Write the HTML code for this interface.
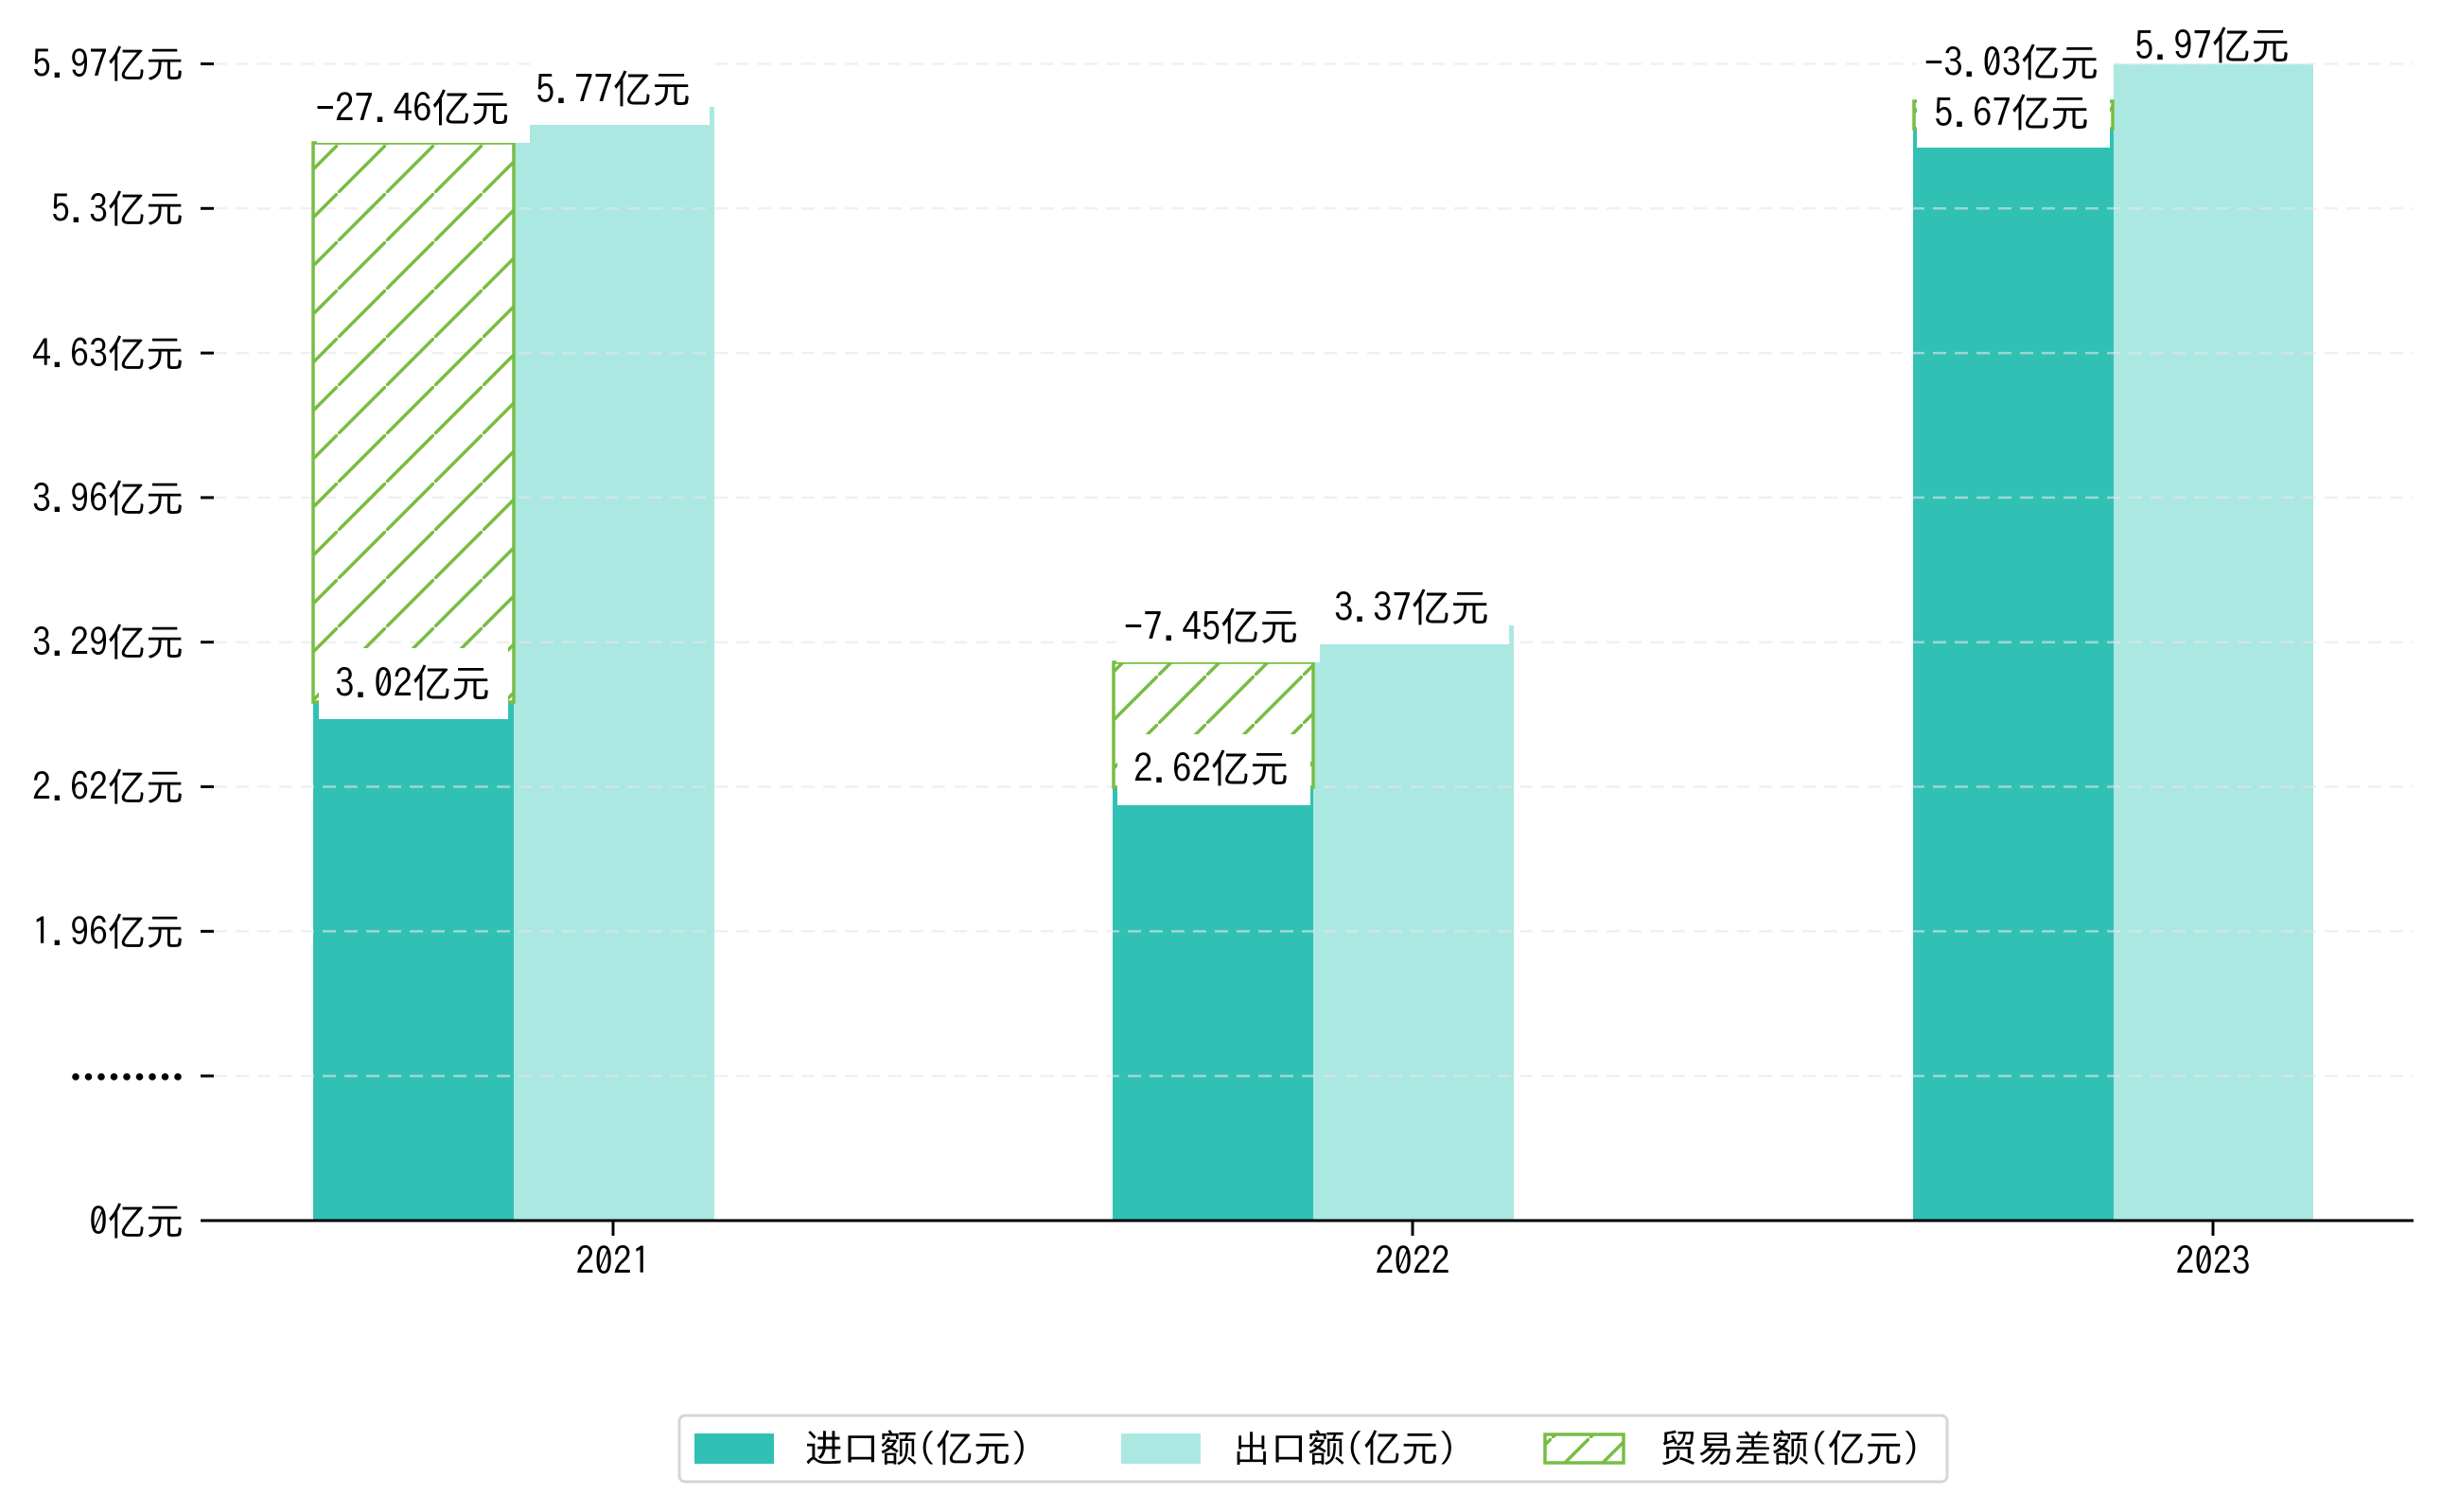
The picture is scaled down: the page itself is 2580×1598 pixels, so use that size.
<!DOCTYPE html>
<html><head><meta charset="utf-8"><style>
html,body{margin:0;padding:0;background:#fff;}
svg{display:block;}
text{font-family:"IPAGothic","Liberation Sans","Noto Sans CJK SC",sans-serif;fill:#000;}
</style></head><body>
<svg width="2580" height="1598" viewBox="0 0 2580 1598" xmlns="http://www.w3.org/2000/svg">
<defs>
<pattern id="h" patternUnits="userSpaceOnUse" width="51" height="51">
<line x1="-5" y1="56" x2="56" y2="-5" stroke="#77bd43" stroke-width="3.5"/>
</pattern>
<pattern id="h2" patternUnits="userSpaceOnUse" width="40" height="40">
<line x1="-5" y1="45" x2="45" y2="-5" stroke="#77bd43" stroke-width="3.5"/>
</pattern>
</defs>
<!-- y ticks -->
<g stroke="#000" stroke-width="3">
<line x1="212" y1="67.5" x2="226" y2="67.5"/>
<line x1="212" y1="220.3" x2="226" y2="220.3"/>
<line x1="212" y1="373.1" x2="226" y2="373.1"/>
<line x1="212" y1="525.9" x2="226" y2="525.9"/>
<line x1="212" y1="678.7" x2="226" y2="678.7"/>
<line x1="212" y1="831.5" x2="226" y2="831.5"/>
<line x1="212" y1="984.3" x2="226" y2="984.3"/>
<line x1="212" y1="1137.1" x2="226" y2="1137.1"/>
</g>
<g font-size="40" text-anchor="end">
<text x="194" y="82">5.97亿元</text>
<text x="194" y="235">5.3亿元</text>
<text x="194" y="388">4.63亿元</text>
<text x="194" y="541">3.96亿元</text>
<text x="194" y="693">3.29亿元</text>
<text x="194" y="846">2.62亿元</text>
<text x="194" y="999">1.96亿元</text>
<text x="194" y="1305">0亿元</text>
</g>
<g fill="#000">
<circle cx="80" cy="1138" r="3.8"/><circle cx="93.5" cy="1138" r="3.8"/><circle cx="107" cy="1138" r="3.8"/>
<circle cx="120.5" cy="1138" r="3.8"/><circle cx="134" cy="1138" r="3.8"/><circle cx="147.5" cy="1138" r="3.8"/>
<circle cx="161" cy="1138" r="3.8"/><circle cx="174.5" cy="1138" r="3.8"/><circle cx="188" cy="1138" r="3.8"/>
</g>
<!-- bars -->
<g>
<rect x="331" y="741" width="212" height="549" fill="#31c1b4"/>
<rect x="543" y="113" width="212" height="1177" fill="#abe8e2"/>
<rect x="1176" y="832" width="212" height="458" fill="#31c1b4"/>
<rect x="1388" y="661" width="212" height="629" fill="#abe8e2"/>
<rect x="2022" y="136" width="212" height="1154" fill="#31c1b4"/>
<rect x="2234" y="67.5" width="211" height="1222.5" fill="#abe8e2"/>
</g>
<!-- grid -->
<g stroke="#e6e6e6" stroke-opacity="0.6" stroke-width="2.5" stroke-dasharray="14,9">
<line x1="226" y1="67.5" x2="2551" y2="67.5"/>
<line x1="226" y1="220.3" x2="2551" y2="220.3"/>
<line x1="226" y1="373.1" x2="2551" y2="373.1"/>
<line x1="226" y1="525.9" x2="2551" y2="525.9"/>
<line x1="226" y1="678.7" x2="2551" y2="678.7"/>
<line x1="226" y1="831.5" x2="2551" y2="831.5"/>
<line x1="226" y1="984.3" x2="2551" y2="984.3"/>
<line x1="226" y1="1137.1" x2="2551" y2="1137.1"/>
</g>
<!-- hatch -->
<rect x="331" y="151" width="212" height="591" fill="url(#h)" stroke="#77bd43" stroke-width="3.5"/>
<rect x="1177" y="700" width="211" height="132" fill="url(#h)" stroke="#77bd43" stroke-width="3.5"/>
<rect x="2023" y="107" width="210" height="29" fill="url(#h)" stroke="#77bd43" stroke-width="3.5"/>
<!-- label boxes -->
<g fill="#fff">
<rect x="335" y="78" width="225" height="73"/>
<rect x="560" y="60" width="190" height="72"/>
<rect x="337" y="685" width="200" height="75"/>
<rect x="1180" y="626" width="215" height="74"/>
<rect x="1395" y="606" width="200" height="75"/>
<rect x="1181" y="776" width="204" height="75"/>
<rect x="2026" y="30" width="208" height="74"/>
<rect x="2240" y="12" width="200" height="55"/>
<rect x="2026" y="84" width="204" height="72"/>
</g>
<g font-size="41" text-anchor="middle">
<text x="436" y="129">-27.46亿元</text>
<text x="648" y="109">5.77亿元</text>
<text x="436" y="737">3.02亿元</text>
<text x="1280" y="677">-7.45亿元</text>
<text x="1492" y="657">3.37亿元</text>
<text x="1280" y="827">2.62亿元</text>
<text x="2126" y="81">-3.03亿元</text>
<text x="2338" y="63">5.97亿元</text>
<text x="2126" y="134">5.67亿元</text>
</g>
<!-- x axis -->
<line x1="212" y1="1290" x2="2551" y2="1290" stroke="#000" stroke-width="3"/>
<g stroke="#000" stroke-width="3">
<line x1="648" y1="1290" x2="648" y2="1306"/>
<line x1="1493" y1="1290" x2="1493" y2="1306"/>
<line x1="2339" y1="1290" x2="2339" y2="1306"/>
</g>
<g font-size="40" text-anchor="middle">
<text x="648" y="1347" textLength="79" lengthAdjust="spacingAndGlyphs">2021</text>
<text x="1493" y="1347" textLength="79" lengthAdjust="spacingAndGlyphs">2022</text>
<text x="2339" y="1347" textLength="79" lengthAdjust="spacingAndGlyphs">2023</text>
</g>
<!-- legend -->
<rect x="718" y="1496" width="1340" height="70" rx="6" fill="#fff" stroke="#d6d6d6" stroke-width="3"/>
<rect x="734" y="1515" width="84" height="32" fill="#31c1b4"/>
<rect x="1185" y="1515" width="84" height="32" fill="#abe8e2"/>
<rect x="1633" y="1516" width="83" height="30" fill="url(#h2)" stroke="#77bd43" stroke-width="3.5"/>
<g font-size="39.5">
<text x="851" y="1545">进口额(亿元)</text>
<text x="1303" y="1545">出口额(亿元)</text>
<text x="1754" y="1545">贸易差额(亿元)</text>
</g>
</svg>
</body></html>
